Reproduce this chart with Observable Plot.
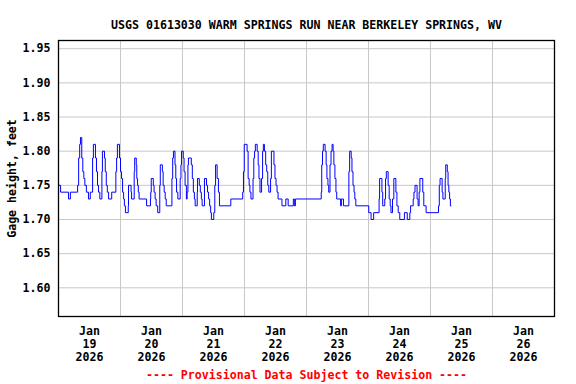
<!DOCTYPE html>
<html>
<head>
<meta charset="utf-8">
<script src="https://cdn.jsdelivr.net/npm/d3@7"></script>
<script src="https://cdn.jsdelivr.net/npm/@observablehq/plot@0.6"></script>
<style>
  html, body { margin: 0; padding: 0; background: #fff; }
</style>
</head>
<body>
<div id="chart"></div>
<script>
// Gage height change points: [hour of day, gage height in feet]
const jan19 = [[0,1.75],[0.8,1.74],[3.9,1.73],[4.6,1.74],[7.4,1.75],[7.8,1.79],[8.2,1.81],[8.5,1.82],[9.0,1.79],[9.4,1.77],[9.8,1.76],[10.2,1.75],[10.8,1.74],[11.6,1.73],[12.3,1.74],[13.2,1.79],[13.5,1.81],[14.3,1.79],[14.7,1.77],[15.1,1.75],[15.5,1.74],[16.0,1.73],[16.8,1.77],[17.0,1.80],[17.8,1.79],[18.1,1.77],[18.5,1.75],[18.9,1.74],[19.4,1.73],[20.6,1.74],[22.2,1.77],[22.5,1.79],[22.8,1.81],[23.6,1.79]];
const jan20 = [[0.0,1.77],[0.4,1.76],[0.8,1.74],[1.2,1.73],[1.5,1.72],[1.9,1.71],[3.0,1.72],[3.1,1.75],[4.1,1.74],[4.3,1.73],[5.3,1.77],[5.5,1.79],[6.1,1.78],[6.3,1.76],[6.6,1.75],[6.9,1.74],[7.2,1.73],[10.1,1.72],[11.6,1.73],[11.7,1.74],[11.9,1.76],[12.7,1.75],[13.0,1.74],[13.4,1.73],[13.8,1.72],[14.4,1.71],[15.2,1.75],[15.4,1.78],[16.2,1.77],[16.5,1.75],[16.9,1.74],[17.3,1.73],[17.7,1.72],[19.9,1.76],[20.2,1.79],[20.5,1.80],[21.1,1.78],[21.4,1.76],[21.7,1.74],[22.2,1.73],[23.1,1.76],[23.4,1.78],[23.6,1.80]];
const jan21 = [[0.3,1.79],[0.6,1.77],[1.0,1.75],[1.5,1.73],[1.8,1.74],[2.1,1.78],[2.3,1.79],[3.4,1.78],[3.8,1.76],[4.2,1.74],[4.6,1.73],[4.9,1.72],[5.7,1.74],[5.8,1.76],[6.5,1.75],[6.9,1.74],[7.3,1.73],[7.6,1.72],[8.5,1.76],[9.3,1.75],[9.7,1.74],[10.1,1.73],[10.5,1.72],[10.9,1.71],[11.2,1.70],[12.1,1.71],[12.5,1.75],[12.8,1.78],[13.4,1.76],[13.9,1.74],[14.3,1.72],[18.7,1.73],[23.3,1.74],[23.6,1.77],[23.9,1.81]];
const jan22 = [[1.0,1.80],[1.4,1.76],[1.8,1.75],[2.1,1.74],[2.5,1.73],[3.3,1.76],[3.6,1.79],[3.9,1.80],[4.2,1.81],[4.9,1.80],[5.3,1.78],[5.6,1.76],[6.0,1.74],[6.6,1.76],[7.0,1.80],[7.3,1.81],[7.7,1.80],[8.2,1.78],[8.6,1.77],[9.0,1.75],[9.4,1.74],[10.1,1.76],[10.4,1.80],[11.4,1.78],[11.8,1.76],[12.2,1.75],[12.6,1.74],[13.0,1.73],[14.5,1.72],[16.0,1.73],[16.9,1.72],[18.9,1.73],[19.3,1.72],[19.7,1.73]];
const jan23 = [[5.7,1.74],[5.9,1.78],[6.2,1.80],[6.5,1.81],[7.2,1.80],[7.6,1.78],[7.9,1.76],[8.3,1.75],[8.6,1.74],[9.1,1.78],[9.5,1.80],[9.9,1.81],[10.3,1.80],[10.6,1.78],[11.0,1.76],[11.4,1.74],[11.7,1.73],[13.2,1.72],[13.5,1.73],[14.3,1.72],[16.4,1.77],[16.7,1.80],[17.3,1.79],[17.6,1.77],[18.0,1.75],[18.4,1.74],[18.7,1.73],[19.1,1.72]];
const jan24 = [[0.1,1.71],[1.0,1.70],[2.0,1.71],[4.1,1.73],[4.3,1.76],[5.2,1.74],[5.5,1.72],[6.3,1.73],[6.6,1.76],[6.9,1.77],[7.6,1.75],[8.0,1.73],[8.4,1.72],[8.7,1.71],[9.3,1.73],[9.8,1.76],[10.6,1.74],[11.0,1.72],[11.5,1.71],[12.1,1.70],[13.9,1.71],[15.0,1.70],[16.0,1.71],[16.3,1.72],[17.3,1.73],[17.6,1.74],[18.0,1.75],[18.8,1.73],[19.2,1.72],[19.6,1.74],[19.9,1.76],[21.0,1.74],[21.4,1.72],[22.3,1.71]];
const jan25 = [[3.1,1.72],[3.4,1.75],[3.7,1.76],[4.5,1.74],[4.8,1.73],[5.7,1.76],[5.9,1.78],[6.5,1.77],[6.8,1.75],[7.1,1.74],[7.4,1.73],[7.7,1.72],[8.0,1.72]];

const dataDays = [19, 20, 21, 22, 23, 24, 25];
const dataSeries = [jan19, jan20, jan21, jan22, jan23, jan24, jan25];
const gridDays = [19, 20, 21, 22, 23, 24, 25, 26, 27];
const labelDays = [19, 20, 21, 22, 23, 24, 25, 26];
const yTicks = [1.60, 1.65, 1.70, 1.75, 1.80, 1.85, 1.90, 1.95];
const titleText = "USGS 01613030 WARM SPRINGS RUN NEAR BERKELEY SPRINGS, WV";
const yLabel = "Gage height, feet";
const captionText = "---- Provisional Data Subject to Revision ----";

const dayStart = d => new Date(2026, 0, d);
const data = dataSeries.flatMap((arr, i) =>
  arr.map(([h, v]) => ({date: new Date(dayStart(dataDays[i]).getTime() + h * 3600e3), value: v}))
);
const midnights = gridDays.map(dayStart);
const noons = labelDays.map(d => new Date(2026, 0, d, 12));

const chart = Plot.plot({
  width: 576,
  height: 384,
  marginLeft: 58,
  marginRight: 22,
  marginTop: 40,
  marginBottom: 68,
  style: {fontFamily: "'DejaVu Sans Mono', monospace", fontWeight: "bold", fontSize: "11.6px", background: "#fff", color: "#000"},
  x: {type: "time", domain: [dayStart(19), dayStart(27)]},
  y: {domain: [1.558, 1.962]},
  marks: [
    Plot.ruleX(midnights, {stroke: "#c8c8c8", strokeWidth: 1}),
    Plot.ruleY(yTicks, {stroke: "#c8c8c8", strokeWidth: 1}),
    Plot.line(data, {x: "date", y: "value", curve: "step-after", stroke: "#0000ff", strokeWidth: 1}),
    Plot.frame({stroke: "#000", strokeWidth: 1.3}),
    Plot.axisY(yTicks, {tickSize: 0, tickPadding: 8, tickFormat: d => d.toFixed(2), label: null}),
    Plot.axisX(noons, {tickSize: 0, tickPadding: 9, lineHeight: 1.12, tickFormat: d => `Jan\n${d.getDate()}\n2026`, label: null}),
    Plot.text([titleText], {frameAnchor: "top", dy: -20, text: d => d}),
    Plot.text([yLabel], {frameAnchor: "left", textAnchor: "middle", dx: -46, rotate: -90, text: d => d}),
    Plot.text([captionText], {frameAnchor: "bottom", dy: 62, fill: "#ff0000", text: d => d})
  ]
});
document.getElementById("chart").append(chart);
</script>
</body>
</html>
